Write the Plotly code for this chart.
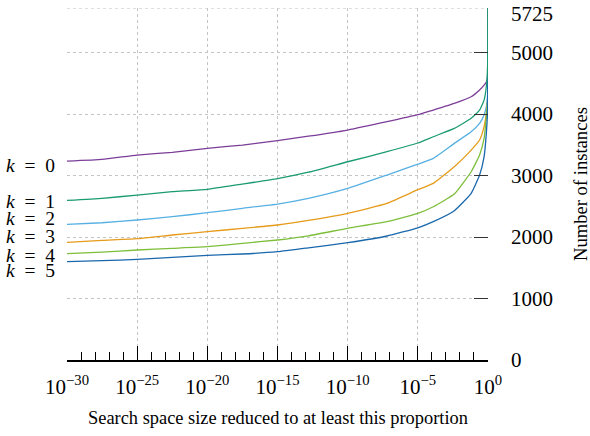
import plotly.graph_objects as go

# exponents of the proportion (x = 10**e)
exponents = [-30, -27.5, -25, -22.5, -20, -17.5, -15, -12.8, -10, -7.2, -5, -3.9,
             -2.4, -1.2, -0.6, -0.28, -0.12, -0.03, 0]

k0 = [3236, 3264, 3334, 3377, 3443, 3497, 3570, 3640, 3741, 3876, 3990, 4066,
      4174, 4282, 4391, 4470, 4520, 4581, 5725]
k1 = [2597, 2630, 2683, 2738, 2776, 2862, 2950, 3055, 3225, 3388, 3530, 3632,
      3768, 3931, 4066, 4228, 4445, 4770, 5725]
k2 = [2207, 2233, 2277, 2331, 2396, 2467, 2537, 2630, 2792, 3009, 3185, 3280,
      3524, 3713, 3849, 3985, 4120, 4300, 5725]
k3 = [1914, 1947, 1973, 2033, 2087, 2142, 2196, 2270, 2385, 2548, 2770, 2873,
      3144, 3415, 3578, 3795, 4012, 4200, 5725]
k4 = [1729, 1756, 1789, 1816, 1843, 1898, 1952, 2020, 2142, 2250, 2385, 2493,
      2700, 3062, 3334, 3605, 3957, 4228, 5725]
k5 = [1599, 1615, 1637, 1670, 1703, 1724, 1762, 1825, 1908, 2017, 2150, 2250,
      2428, 2711, 3009, 3306, 3687, 4066, 5725]

series = {"k = 0": k0, "k = 1": k1, "k = 2": k2, "k = 3": k3, "k = 4": k4, "k = 5": k5}
colors = {"k = 0": "#7b3d98", "k = 1": "#1a9a72", "k = 2": "#56b0e2",
          "k = 3": "#e69b1a", "k = 4": "#7dbe3a", "k = 5": "#1a68ac"}
draw_order = ["k = 0", "k = 2", "k = 3", "k = 4", "k = 5", "k = 1"]

label_y = {"k = 0": 3171, "k = 1": 2574, "k = 2": 2304, "k = 3": 2017,
           "k = 4": 1708, "k = 5": 1452}

x_tick_exps = [-30, -25, -20, -15, -10, -5, 0]
y_ticks = [0, 1000, 2000, 3000, 4000, 5000, 5725]
TOTAL = 5725
X_TITLE = "Search space size reduced to at least this proportion"
Y_TITLE = "Number of instances"

FONT = "Liberation Serif"
GRID = "#c4c4c4"

x_vals = [10 ** e for e in exponents]

fig = go.Figure()
for name in draw_order:
    fig.add_trace(go.Scatter(
        x=x_vals, y=series[name], mode="lines", name=name,
        line=dict(color=colors[name], width=1.3, shape="spline", smoothing=0.4),
        showlegend=False, hoverinfo="skip"))

for name in series:
    num = name.split("= ")[1]
    fig.add_annotation(
        x=-0.024, xref="paper", y=label_y[name], yref="y",
        text=f"<i>k</i>&nbsp;&nbsp;=&nbsp;&nbsp;{num}", showarrow=False,
        xanchor="right", yanchor="middle",
        font=dict(family=FONT, size=19.5, color="#000"))

fig.add_annotation(x=0.5, xref="paper", y=-0.165, yref="paper", text=X_TITLE,
                   showarrow=False, xanchor="center", yanchor="middle",
                   font=dict(family=FONT, size=18.4, color="#000"))
fig.add_annotation(x=1.2185, xref="paper", y=0.5, yref="paper", text=Y_TITLE,
                   showarrow=False, xanchor="center", yanchor="middle",
                   textangle=-90, font=dict(family=FONT, size=18.6, color="#000"))

# label of the top tick (total), placed so it stays inside the page
fig.add_annotation(x=1, xref="paper", xshift=21, y=1, yref="paper", yshift=8,
                   text=str(TOTAL), showarrow=False, xanchor="left", yanchor="top",
                   font=dict(family=FONT, size=21, color="#000"))

# dotted gridline at the top (total number of instances)
fig.add_shape(type="line", xref="paper", x0=0, x1=1, yref="y", y0=TOTAL, y1=TOTAL,
              line=dict(color=GRID, width=1, dash="dot"), layer="below")

fig.update_layout(
    width=590, height=436,
    margin=dict(l=67, r=102, t=8, b=76),
    paper_bgcolor="white", plot_bgcolor="white",
    font=dict(family=FONT, color="#000"),
    xaxis=dict(
        type="log", range=[-30, 0], automargin=False,
        tickvals=[10 ** e for e in x_tick_exps],
        ticktext=[f"10<sup>{'−' if e < 0 else ''}{abs(e)}</sup>" for e in x_tick_exps],
        ticks="inside", ticklen=14, tickwidth=1.3, tickcolor="#000",
        showline=True, linecolor="#000", linewidth=1.5,
        showgrid=True, gridcolor=GRID, griddash="dot", gridwidth=1,
        tickfont=dict(family=FONT, size=21),
        ticklabelstandoff=7, ticklabeloverflow="allow",
        minor=dict(tickvals=[10 ** e for e in range(-30, 1)], ticks="inside",
                   ticklen=8, tickwidth=1, tickcolor="#000", showgrid=False),
        zeroline=False,
    ),
    yaxis=dict(
        side="right", range=[0, TOTAL + 1], automargin=False,
        tickvals=y_ticks,
        ticktext=["" if v == TOTAL else str(v) for v in y_ticks],
        ticks="inside", ticklen=14, tickwidth=1.3, tickcolor="#333",
        showline=False,
        showgrid=True, gridcolor=GRID, griddash="dot", gridwidth=1,
        tickfont=dict(family=FONT, size=21),
        ticklabelstandoff=22, ticklabeloverflow="allow",
        zeroline=False,
    ),
)

fig.write_html("out.html", config={"displayModeBar": False},
               post_script="document.body.style.margin='0';document.body.style.padding='0';")
